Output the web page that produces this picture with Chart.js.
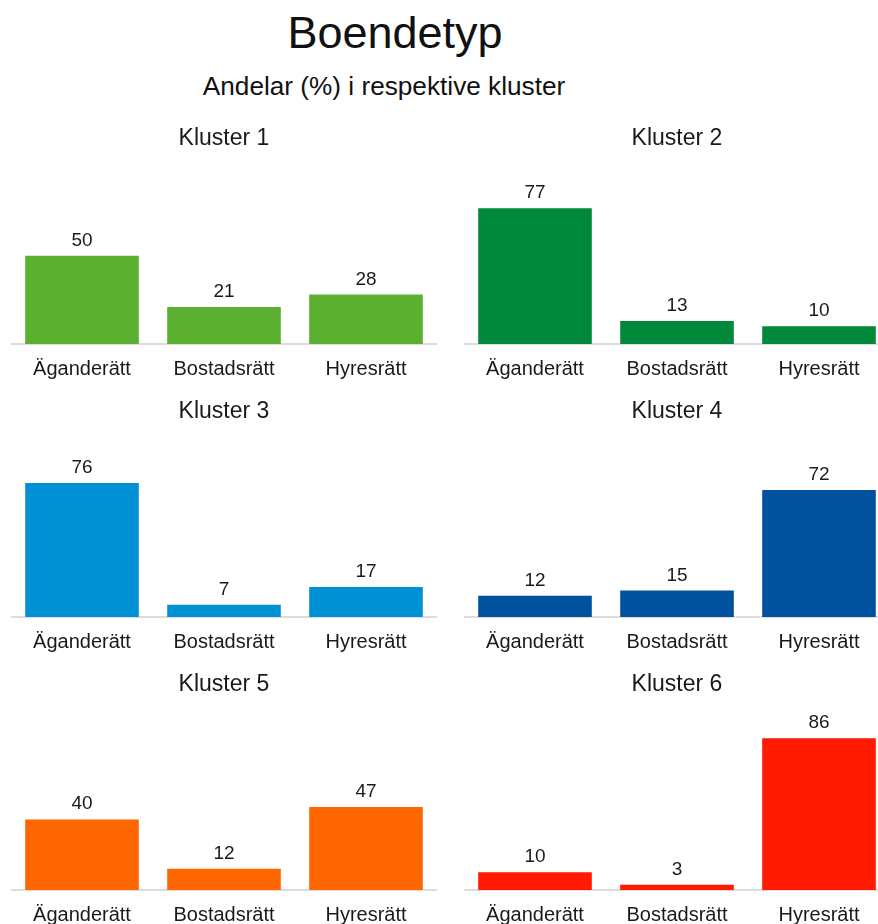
<!DOCTYPE html>
<html>
<head>
<meta charset="utf-8">
<script src="https://cdn.jsdelivr.net/npm/chart.js@4"></script>
<style>
  html, body { margin: 0; padding: 0; background: #fff; overflow: hidden; }
  body { width: 878px; height: 924px; position: relative; font-family: "Liberation Sans", Arial, sans-serif; color: #111; }
  .title { position: absolute; left: 0; width: 790px; text-align: center; top: 7px; font-size: 45px; line-height: 52px; }
  .subtitle { position: absolute; left: 0; width: 768px; text-align: center; top: 70px; font-size: 26.2px; line-height: 32px; }
  canvas { position: absolute; }
</style>
</head>
<body>
<div class="title">Boendetyp</div>
<div class="subtitle">Andelar (%) i respektive kluster</div>
<canvas id="k1" width="426" height="274" style="left:11px;top:120px"></canvas>
<canvas id="k2" width="426" height="274" style="left:464px;top:120px"></canvas>
<canvas id="k3" width="426" height="274" style="left:11px;top:393px"></canvas>
<canvas id="k4" width="426" height="274" style="left:464px;top:393px"></canvas>
<canvas id="k5" width="426" height="274" style="left:11px;top:666px"></canvas>
<canvas id="k6" width="426" height="274" style="left:464px;top:666px"></canvas>
<script>
const categories = ['Äganderätt', 'Bostadsrätt', 'Hyresrätt'];
const clusterNames = ['Kluster 1', 'Kluster 2', 'Kluster 3', 'Kluster 4', 'Kluster 5', 'Kluster 6'];

const kluster1 = [50, 21, 28];
const kluster2 = [77, 13, 10];
const kluster3 = [76, 7, 17];
const kluster4 = [12, 15, 72];
const kluster5 = [40, 12, 47];
const kluster6 = [10, 3, 86];

const clusterValues = [kluster1, kluster2, kluster3, kluster4, kluster5, kluster6];
const clusterColors = ['#5BB030', '#00893A', '#0091D5', '#00519E', '#FF6600', '#FF1A00'];

const fontFamily = '"Liberation Sans", Arial, sans-serif';

// writes the value above each bar
const valueLabels = {
    id: 'valueLabels',
    afterDatasetsDraw(chart) {
        const ctx = chart.ctx;
        const meta = chart.getDatasetMeta(0);
        const values = chart.data.datasets[0].data;
        ctx.save();
        ctx.font = '19px ' + fontFamily;
        ctx.fillStyle = '#1a1a1a';
        ctx.textAlign = 'center';
        ctx.textBaseline = 'alphabetic';
        meta.data.forEach((bar, i) => {
            ctx.fillText(values[i], bar.x, bar.y - 10);
        });
        ctx.restore();
    }
};

clusterValues.forEach((values, i) => {
    const elem = document.getElementById('k' + (i + 1)).getContext('2d');
    new Chart(elem, {
        type: 'bar',
        data: {
            labels: categories,
            datasets: [{
                label: clusterNames[i],
                data: values,
                backgroundColor: clusterColors[i],
                barPercentage: 1,
                categoryPercentage: 0.8,
            }],
        },
        options: {
            responsive: false,
            animation: false,
            layout: { padding: 0 },
            scales: {
                y: {
                    display: false,
                    min: 0,
                    max: 100,
                },
                x: {
                    grid: { display: false, drawTicks: false },
                    border: { display: true, color: '#dcdcdc', width: 2 },
                    ticks: {
                        padding: 13,
                        color: '#1a1a1a',
                        font: { family: fontFamily, size: 20 },
                        maxRotation: 0,
                    },
                },
            },
            plugins: {
                legend: { display: false },
                tooltip: { enabled: false },
                title: {
                    display: true,
                    text: clusterNames[i],
                    color: '#1a1a1a',
                    font: { family: fontFamily, size: 23, weight: 'normal' },
                    padding: { top: 5, bottom: 15 },
                },
            },
        },
        plugins: [valueLabels],
    });
});
</script>
</body>
</html>
